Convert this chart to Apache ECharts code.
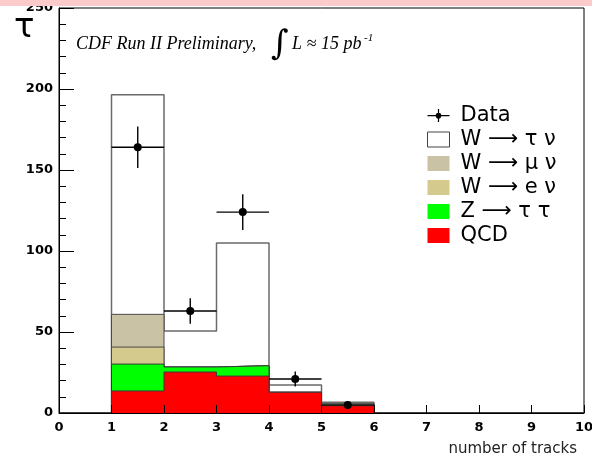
<!DOCTYPE html>
<html>
<head>
<meta charset="utf-8">
<script src="https://cdn.jsdelivr.net/npm/echarts@6/dist/echarts.min.js"></script>
<style>
  html, body { margin: 0; padding: 0; background: #ffffff; }
  #chart { width: 592px; height: 457px; }
</style>
</head>
<body>
<div id="chart"></div>
<script>
// Track-multiplicity bins: lower edges, each one track wide
const binLow = [1, 2, 3, 4, 5];
const binWidth = 1;

// Expected events per bin, listed from the bottom of the stack upward
const qcd     = [13.6, 25.3, 22.8, 12.8, 4.5];
const zTauTau = [16.6, 3.1, 6.4, 0.0, 0.0];
const wENu    = [10.5, 0.0, 0.0, 0.0, 0.0];
const wMuNu   = [20.2, 0.0, 0.0, 0.0, 1.3];
const wTauNu  = [135.6, 22.2, 75.7, 4.5, 0.8];

// Observed events with statistical errors
const dataX   = [1.5, 2.5, 3.5, 4.5, 5.5];
const dataY   = [164, 63, 124, 21, 5];
const dataErr = [12.8, 7.9, 11.1, 4.6, 2.2];

// Axis ticks
const xTicks = [0, 1, 2, 3, 4, 5, 6, 7, 8, 9, 10];
const yTicks = [0, 50, 100, 150, 200, 250];

// Stack contributions bottom-up into cumulative levels
function cumulative(parts) {
  return binLow.map((_, i) => parts.reduce((s, p) => s + p[i], 0));
}

// Step outline points for a histogram: value held across each bin
function stepPoints(levels) {
  const pts = [[xTicks[0], 0]];
  binLow.forEach((lo, i) => pts.push([lo, levels[i]]));
  pts.push([binLow[binLow.length - 1] + binWidth, 0]);
  pts.push([xTicks[xTicks.length - 1], 0]);
  return pts;
}

const layers = [
  { name: 'W \u27f6 \u03c4 \u03bd', parts: [qcd, zTauTau, wENu, wMuNu, wTauNu], fill: '#ffffff', line: '#6a6a6a', width: 1.5 },
  { name: 'W \u27f6 \u03bc \u03bd', parts: [qcd, zTauTau, wENu, wMuNu], fill: '#c9c2a4', line: '#4a4a4a', width: 1 },
  { name: 'W \u27f6 e \u03bd',      parts: [qcd, zTauTau, wENu], fill: '#d5ca8e', line: '#4a4a4a', width: 1 },
  { name: 'Z \u27f6 \u03c4 \u03c4', parts: [qcd, zTauTau], fill: '#00ff00', line: '#3a3a3a', width: 1 },
  { name: 'QCD',                    parts: [qcd], fill: '#ff0000', line: '#3a3a3a', width: 1 }
];

const histSeries = layers.map((layer, k) => ({
  name: layer.name,
  type: 'line',
  step: 'end',
  z: 2 + k,
  showSymbol: false,
  symbol: 'none',
  silent: true,
  color: layer.fill,
  lineStyle: { color: layer.line, width: layer.width },
  areaStyle: { color: layer.fill, opacity: 1 },
  data: stepPoints(cumulative(layer.parts))
}));

const dataSeries = {
  name: 'Data',
  type: 'custom',
  z: 20,
  color: '#000000',
  silent: true,
  data: dataX.map((x, i) => [x, dataY[i], dataErr[i]]),
  renderItem: function (params, api) {
    const x = api.value(0), y = api.value(1), e = api.value(2);
    const l = api.coord([x - binWidth / 2, y]);
    const r = api.coord([x + binWidth / 2, y]);
    const t = api.coord([x, y + e]);
    const b = api.coord([x, y - e]);
    const c = api.coord([x, y]);
    const st = { stroke: '#000000', lineWidth: 1.4 };
    return {
      type: 'group',
      children: [
        { type: 'line', shape: { x1: l[0], y1: l[1], x2: r[0], y2: r[1] }, style: st },
        { type: 'line', shape: { x1: t[0], y1: t[1], x2: b[0], y2: b[1] }, style: st },
        { type: 'circle', shape: { cx: c[0], cy: c[1], r: 4 }, style: { fill: '#000000' } }
      ]
    };
  }
};

const tickFont = { fontFamily: 'DejaVu Sans', fontWeight: 'bold', fontSize: 13, color: '#000000' };
const crossIcon = 'path://M0,7 L22,7 L22,8.3 L0,8.3 Z M10.4,1 L11.6,1 L11.6,14 L10.4,14 Z M8.2,7.65 A2.8,2.8 0 1 1 13.8,7.65 A2.8,2.8 0 1 1 8.2,7.65 Z';

const legendData = [{ name: 'Data', icon: crossIcon, itemStyle: { color: '#000000', borderWidth: 0 } }]
  .concat(layers.map(layer => ({
    name: layer.name,
    icon: 'rect',
    itemStyle: layer.fill === '#ffffff'
      ? { color: '#ffffff', borderColor: '#444444', borderWidth: 1 }
      : { color: layer.fill, borderWidth: 0 }
  })));

const chart = echarts.init(document.getElementById('chart'), null, { renderer: 'canvas' });

chart.setOption({
  animation: false,
  backgroundColor: '#ffffff',
  grid: {
    left: 59, right: 8, top: 8, bottom: 44,
    show: true, borderColor: '#000000', borderWidth: 1,
    outerBoundsMode: 'none'
  },
  xAxis: {
    type: 'value',
    z: 10,
    min: xTicks[0],
    max: xTicks[xTicks.length - 1],
    interval: xTicks[1] - xTicks[0],
    axisLine: { show: true, onZero: false, lineStyle: { color: '#000000', width: 1 } },
    axisTick: { show: true, inside: true, length: 8, lineStyle: { color: '#000000' } },
    axisLabel: Object.assign({ margin: 8 }, tickFont),
    splitLine: { show: false }
  },
  yAxis: {
    type: 'value',
    z: 10,
    min: yTicks[0],
    max: yTicks[yTicks.length - 1],
    interval: yTicks[1] - yTicks[0],
    axisLine: { show: true, onZero: false, lineStyle: { color: '#000000', width: 1 } },
    axisTick: { show: true, inside: true, length: 15, lineStyle: { color: '#000000' } },
    minorTick: { show: true, splitNumber: 5, length: 7, lineStyle: { color: '#000000' } },
    axisLabel: Object.assign({ margin: 6 }, tickFont),
    splitLine: { show: false }
  },
  legend: {
    orient: 'vertical',
    left: 427,
    top: 105,
    padding: 0,
    itemWidth: 22,
    itemHeight: 15,
    itemGap: 3,
    selectedMode: false,
    textStyle: { fontFamily: 'DejaVu Sans', fontSize: 21, color: '#000000', padding: [0, 0, 0, 6] },
    data: legendData
  },
  graphic: [
    { type: 'rect', z: 100, shape: { x: 0, y: 0, width: 592, height: 6 }, style: { fill: '#fbcaca' } },
    { type: 'text', z: 50, x: 14, y: 28,
      style: { text: '\u03c4', font: '34px "DejaVu Sans"', fill: '#000000', verticalAlign: 'middle' } },
    { type: 'text', z: 50, x: 76, y: 44,
      style: { text: 'CDF Run II Preliminary,', font: 'italic 18px "Liberation Serif"', fill: '#000000', verticalAlign: 'middle' } },
    { type: 'text', z: 50, x: 271, y: 45,
      style: { text: '\u222b', font: 'italic 34px "DejaVu Serif"', fill: '#000000', verticalAlign: 'middle' } },
    { type: 'text', z: 50, x: 292, y: 44,
      style: { text: 'L \u2248 15 pb', font: 'italic 18px "Liberation Serif"', fill: '#000000', verticalAlign: 'middle' } },
    { type: 'text', z: 50, x: 364, y: 38,
      style: { text: '-1', font: 'italic 11px "Liberation Serif"', fill: '#000000', verticalAlign: 'middle' } },
    { type: 'text', z: 50, x: 577, y: 449,
      style: { text: 'number of tracks', font: '15px "DejaVu Sans"', fill: '#222222', align: 'right', verticalAlign: 'middle' } }
  ],
  series: histSeries.concat([dataSeries])
});
</script>
</body>
</html>
